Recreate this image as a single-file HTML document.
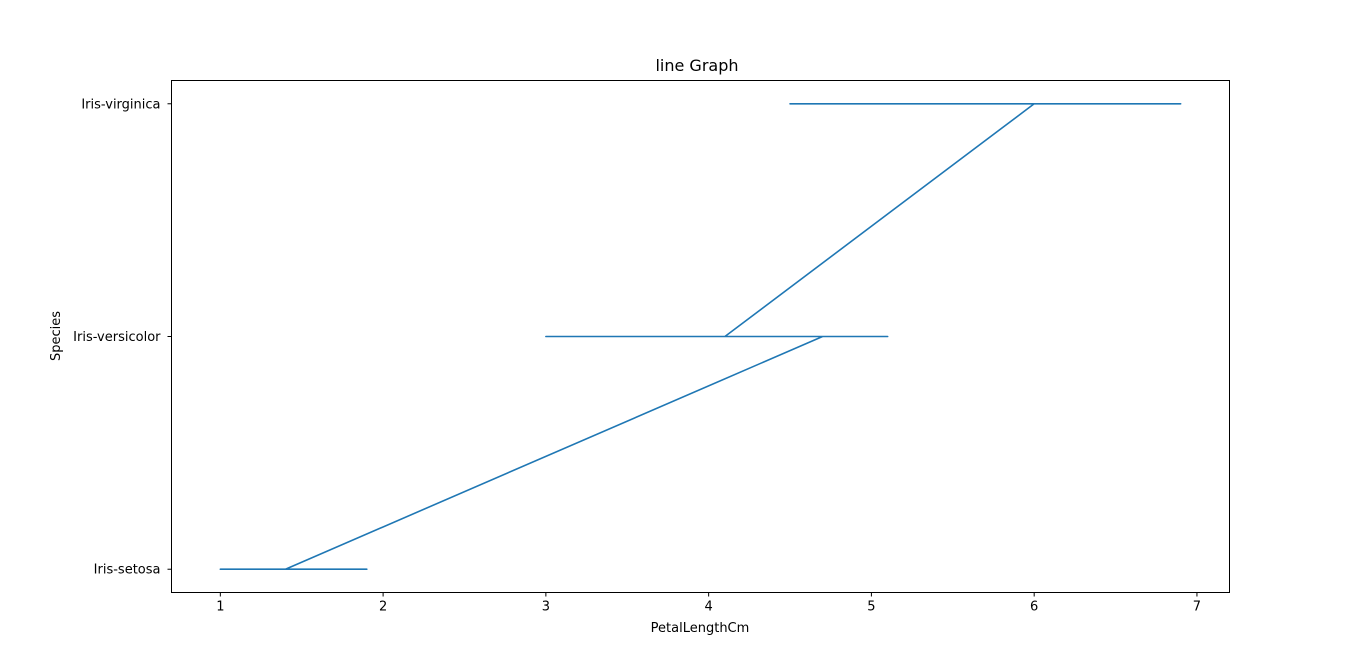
<!DOCTYPE html>
<html><head><meta charset="utf-8"><style>
body{margin:0;background:#fff;font-family:"Liberation Sans","DejaVu Sans",sans-serif;}
svg text{font-family:"DejaVu Sans","Liberation Sans",sans-serif;font-size:13px;fill:#000;}
</style></head><body>
<svg id="chart" width="1366" height="665" xmlns="http://www.w3.org/2000/svg">
<rect width="1366" height="665" fill="#fff"/>
<text x="697" y="71" text-anchor="middle" font-size="16" style="font-size:16px">line Graph</text>
<g id="ticks"></g>
<path id="series" fill="none" stroke="#1f77b4" stroke-width="1.6" stroke-linejoin="round"/>
<rect x="171.5" y="80.5" width="1058" height="512" fill="none" stroke="#000" stroke-width="1"/>
<text x="700" y="632" text-anchor="middle">PetalLengthCm</text>
<text x="60" y="336" text-anchor="middle" transform="rotate(-90 60 336)">Species</text>
</svg>
<script>
const categories = ["Iris-setosa","Iris-versicolor","Iris-virginica"];
const xTicks = [1,2,3,4,5,6,7];
const setosa = [1.4,1.4,1.3,1.5,1.4,1.7,1.4,1.5,1.4,1.5,1.5,1.6,1.4,1.1,1.2,1.5,1.3,1.4,1.7,1.5,1.7,1.5,1.0,1.7,1.9,1.6,1.6,1.5,1.4,1.6,1.6,1.5,1.5,1.4,1.5,1.2,1.3,1.5,1.3,1.5,1.3,1.3,1.3,1.6,1.9,1.4,1.6,1.4,1.5,1.4];
const versicolor = [4.7,4.5,4.9,4.0,4.6,4.5,4.7,3.3,4.6,3.9,3.5,4.2,4.0,4.7,3.6,4.4,4.5,4.1,4.5,3.9,4.8,4.0,4.9,4.7,4.3,4.4,4.8,5.0,4.5,3.5,3.8,3.7,3.9,5.1,4.5,4.5,4.7,4.4,4.1,4.0,4.4,4.6,4.0,3.3,4.2,4.2,4.2,4.3,3.0,4.1];
const virginica = [6.0,5.1,5.9,5.6,5.8,6.6,4.5,6.3,5.8,6.1,5.1,5.3,5.5,5.0,5.1,5.3,5.5,6.7,6.9,5.0,5.7,4.9,6.7,4.9,5.7,6.0,4.8,4.9,5.6,5.8,6.1,6.4,5.6,5.1,5.6,6.1,5.6,5.5,4.8,5.4,5.6,5.1,5.1,5.9,5.7,5.2,5.0,5.2,5.4,5.1];
const X0=171.5,X1=1229.5,Y0=80.5,Y1=592.5;
const xmin=0.7,xmax=7.2,ymin=-0.1,ymax=2.1;
function xs(v){return X0+(v-xmin)/(xmax-xmin)*(X1-X0);}
function ys(i){return Y1-(i-ymin)/(ymax-ymin)*(Y1-Y0);}
const NS="http://www.w3.org/2000/svg";
const g=document.getElementById('ticks');
function mk(t,a){const e=document.createElementNS(NS,t);for(const k in a)e.setAttribute(k,a[k]);g.appendChild(e);return e;}
xTicks.forEach(v=>{
 const l=mk('line',{x1:xs(v),x2:xs(v),y1:Y1,y2:Y1+4,stroke:'#000'});
 
 
 const t=mk('text',{x:xs(v),y:Y1+18,'text-anchor':'middle'});t.textContent=v;
 
 
});
categories.forEach((c,i)=>{
 const l=mk('line',{x1:X0-4,x2:X0,y1:ys(i),y2:ys(i),stroke:'#000'});
 
 
 const t=mk('text',{x:X0-11,y:ys(i)+4.5,'text-anchor':'end'});t.textContent=c;
 
 
});
let pts=[];
[setosa,versicolor,virginica].forEach((arr,i)=>arr.forEach(v=>pts.push(xs(v).toFixed(2)+','+ys(i).toFixed(2))));
document.getElementById('series').setAttribute('d','M'+pts.join('L'));
</script>
</body></html>
